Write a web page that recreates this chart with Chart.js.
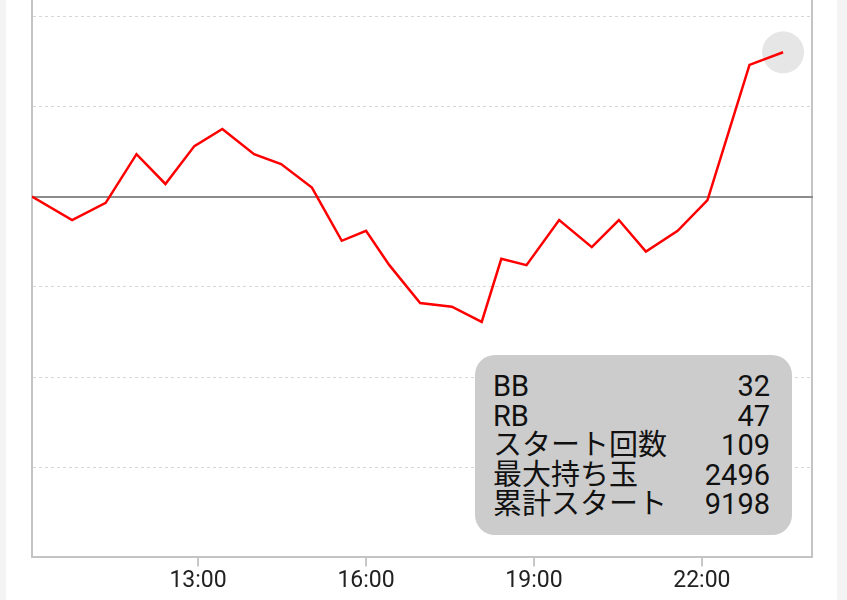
<!DOCTYPE html>
<html lang="ja">
<head>
  <meta charset="UTF-8" />
  <title>持ち玉推移</title>
  <script src="https://cdn.jsdelivr.net/npm/chart.js"></script>
  <style>
    html, body { margin: 0; padding: 0; background: #f4f4f4; overflow: hidden; }
    #card {
      position: absolute;
      left: 6px; top: 0;
      width: 831px; height: 600px;
      background: #fff;
      overflow: hidden;
    }
    #wrap { position: absolute; left: 0; top: -74px; width: 831px; height: 674px; }
    #info {
      position: absolute;
      left: 469px; top: 355px;
      width: 317px; height: 180px;
      box-sizing: border-box;
      padding: 17px 22px 15px 18px;
      background: #cccccc;
      border-radius: 20px;
      font-family: Roboto, "Noto Sans CJK JP", sans-serif;
      font-size: 29px;
      line-height: 29.6px;
      color: #111;
    }
    .row { display: flex; justify-content: space-between; white-space: nowrap; }
  </style>
</head>
<body>
  <div id="card">
    <div id="wrap"><canvas id="chart"></canvas></div>
    <div id="info"></div>
  </div>

  <script>
    // 時刻と持ち玉の差枚
    const times = ['10:02', '10:45', '11:21', '11:54', '12:25', '12:56', '13:26', '14:00', '14:29',
                   '15:02', '15:34', '16:00', '16:25', '16:58', '17:32', '18:04', '18:25', '18:52',
                   '19:27', '20:02', '20:31', '21:00', '21:34', '22:06', '22:51', '23:27'];
    const balls = [0, -260, -70, 470, 140, 560, 750, 470, 360,
                   100, -490, -380, -760, -1180, -1220, -1390, -690, -760,
                   -260, -560, -260, -610, -380, -40, 1460, 1600];
    const tickTimes = ['13:00', '16:00', '19:00', '22:00'];
    const axisStart = '10:02';
    const axisEnd = '23:58';

    const statLabels = ['BB', 'RB', 'スタート回数', '最大持ち玉', '累計スタート'];
    const statValues = [32, 47, 109, 2496, 9198];

    function toMin(t) {
      const [h, m] = t.split(':').map(Number);
      return h * 60 + m;
    }
    function toLabel(v) {
      const h = Math.floor(v / 60), m = v % 60;
      return h + ':' + String(m).padStart(2, '0');
    }

    const points = times.map((t, i) => ({ x: toMin(t), y: balls[i] }));
    const last = points[points.length - 1];

    document.getElementById('info').innerHTML = statLabels
      .map((l, i) => `<div class="row"><span>${l}</span><span>${statValues[i]}</span></div>`)
      .join('');

    // 0 のライン（実線）
    const zeroLine = {
      id: 'zeroLine',
      beforeDatasetsDraw(chart) {
        const { ctx, chartArea, scales } = chart;
        const y = Math.round(scales.y.getPixelForValue(0));
        ctx.save();
        ctx.strokeStyle = '#8c8c8c';
        ctx.lineWidth = 2;
        ctx.beginPath();
        ctx.moveTo(chartArea.left, y);
        ctx.lineTo(chartArea.right + 1, y);
        ctx.stroke();
        ctx.restore();
      }
    };

    const ctx = document.getElementById('chart').getContext('2d');
    new Chart(ctx, {
      type: 'line',
      data: {
        datasets: [
          {
            data: points,
            borderColor: '#ff0000',
            borderWidth: 2.5,
            pointRadius: 0,
            tension: 0,
            fill: false,
            order: 1
          },
          {
            data: [last],
            showLine: false,
            pointRadius: 21,
            pointBackgroundColor: '#e6e6e6',
            pointBorderWidth: 0,
            order: 2
          }
        ]
      },
      plugins: [zeroLine],
      options: {
        responsive: true,
        maintainAspectRatio: false,
        animation: false,
        events: [],
        layout: { autoPadding: false, padding: { left: 26, right: 25, top: 0, bottom: 4 } },
        plugins: { legend: { display: false }, tooltip: { enabled: false } },
        scales: {
          x: {
            type: 'linear',
            min: toMin(axisStart),
            max: toMin(axisEnd),
            afterBuildTicks: axis => { axis.ticks = tickTimes.map(t => ({ value: toMin(t) })); },
            ticks: {
              callback: v => toLabel(v),
              color: '#222',
              padding: 1,
              maxRotation: 0,
              autoSkip: false,
              font: { family: 'Roboto', size: 23 }
            },
            grid: {
              drawOnChartArea: false,
              drawTicks: true,
              tickLength: 9,
              color: '#c8c8c8',
              lineWidth: 2
            },
            border: { display: true, color: '#c4c4c4', width: 2 }
          },
          y: {
            min: -4000,
            max: 3000,
            ticks: { display: false, stepSize: 1000 },
            grid: {
              drawTicks: false,
              color: c => c.tick.value === 0 ? 'rgba(0,0,0,0)' : '#d6d6d6',
              lineWidth: 1
            },
            border: { display: true, color: '#c4c4c4', width: 2, dash: [3, 3] }
          },
          yRight: {
            position: 'right',
            min: -4000,
            max: 3000,
            ticks: { display: false },
            grid: { display: false, drawTicks: false },
            border: { display: true, color: '#c4c4c4', width: 2 }
          }
        }
      }
    });
  </script>
</body>
</html>
